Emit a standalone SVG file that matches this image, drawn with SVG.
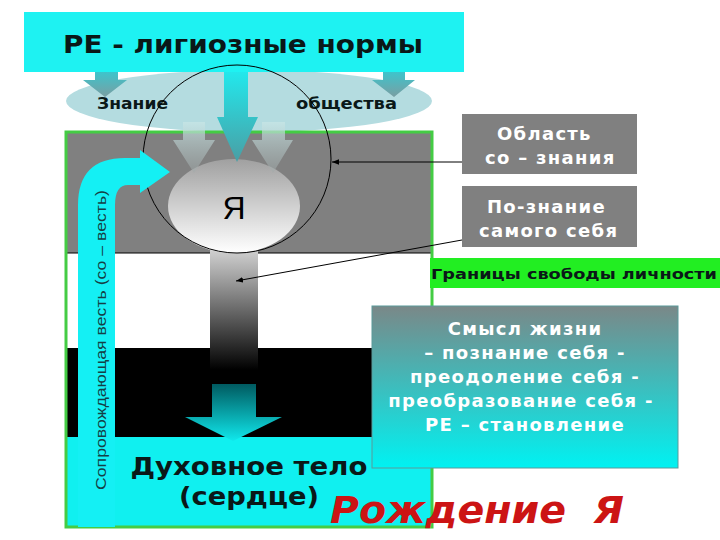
<svg xmlns="http://www.w3.org/2000/svg" width="720" height="540" viewBox="0 0 720 540">
<defs>
<linearGradient id="gTeal" x1="0" y1="0" x2="0" y2="1"><stop offset="0" stop-color="#3DC4CC"/><stop offset="1" stop-color="#7A9EA2"/></linearGradient>
<linearGradient id="gCenter" x1="0" y1="0" x2="0" y2="1"><stop offset="0" stop-color="#22E8EC"/><stop offset="1" stop-color="#4A9EA4"/></linearGradient>
<linearGradient id="gSmall" x1="0" y1="0" x2="0" y2="1"><stop offset="0" stop-color="#C8E6E6" stop-opacity="0.75"/><stop offset="1" stop-color="#A0A8A8" stop-opacity="0.5"/></linearGradient>
<linearGradient id="gBall" x1="0" y1="0" x2="0" y2="1"><stop offset="0" stop-color="#A0A0A0"/><stop offset="1" stop-color="#FFFFFF"/></linearGradient>
<linearGradient id="gShaft" x1="0" y1="0" x2="0" y2="1"><stop offset="0" stop-color="#D0D0D0"/><stop offset="0.2" stop-color="#A8A8A8"/><stop offset="1" stop-color="#000000"/></linearGradient>
<linearGradient id="gDown" x1="0" y1="0" x2="0" y2="1"><stop offset="0" stop-color="#005A60"/><stop offset="1" stop-color="#10E8EC"/></linearGradient>
<linearGradient id="gMean" x1="0" y1="0" x2="0" y2="1"><stop offset="0" stop-color="#7A8888"/><stop offset="1" stop-color="#00F2F2"/></linearGradient>
<marker id="ah" viewBox="0 0 10 10" refX="10" refY="5" markerWidth="7" markerHeight="7" orient="auto"><path d="M0,1 L10,5 L0,9 Z" fill="#000"/></marker>
</defs>
<style>
.b{font-family:"DejaVu Sans",Verdana,sans-serif;font-weight:bold}
.w{fill:#FFFFFF}
.k{fill:#0A1818}
.c{text-anchor:middle}
.s{font-size:18px;letter-spacing:1.3px}
</style>
<rect width="720" height="540" fill="#FFFFFF"/>

<g id="society">
<ellipse cx="249" cy="101" rx="183" ry="31" fill="#B4DCE0"/>
<text class="b k" x="97" y="109" font-size="16" textLength="71" lengthAdjust="spacingAndGlyphs">Знание</text>
<text class="b k" x="296" y="109" font-size="16" textLength="101" lengthAdjust="spacingAndGlyphs">общества</text>
</g>

<g id="frame">
<rect x="66" y="132" width="366" height="121" fill="#808080"/>
<rect x="66" y="253" width="366" height="95" fill="#FFFFFF"/>
<rect x="66" y="348" width="366" height="89" fill="#000000"/>
<rect x="66" y="437" width="366" height="90" fill="#10F0F0"/>
<line x1="66" y1="253" x2="432" y2="253" stroke="#000" stroke-width="1"/>
<rect x="66" y="132" width="366" height="395" fill="none" stroke="#44CC44" stroke-width="3"/>
</g>

<g id="norms-arrows">
<path d="M95,72 H118 V80 H127 L105,97 L83,80 H95 Z" fill="url(#gTeal)"/>
<path d="M383,72 H405 V80 H415 L394,97 L372,80 H383 Z" fill="url(#gTeal)"/>
</g>

<g id="shaft">
<rect x="210" y="250" width="48" height="120" fill="url(#gShaft)"/>
</g>

<g id="ya">
<ellipse cx="234" cy="206" rx="66" ry="47" fill="url(#gBall)"/>
<text x="234" y="219" font-family="Liberation Sans, Arial, sans-serif" font-size="32" fill="#000" class="c">Я</text>
</g>

<g id="small-arrows">
<path d="M183,122 H205 V140 H215 L194,173 L173,140 H183 Z" fill="url(#gSmall)"/>
<path d="M262,122 H285 V140 H293 L273,173 L252,140 H262 Z" fill="url(#gSmall)"/>
</g>

<g id="center-arrow">
<path d="M224,72 H248 V117 H258 L237,162 L217,117 H224 Z" fill="url(#gCenter)"/>
</g>

<g id="down-arrow">
<path d="M212,384 H256 V417 H282 L233,441 L185,417 H212 Z" fill="url(#gDown)"/>
</g>

<g id="title">
<rect x="24" y="12" width="440" height="60" fill="#1EF2F2"/>
<text class="b k" x="63" y="53" font-size="25" textLength="360" lengthAdjust="spacingAndGlyphs">РЕ - лигиозные нормы</text>
</g>

<g id="circle">
<circle cx="237" cy="159" r="94" fill="none" stroke="#000" stroke-width="1"/>
</g>

<g id="conscience">
<path d="M78,527 V205 Q78,158 125,158 H140 V150 L170,172 L140,193 V185 H128 Q115,185 115,205 V527 Z" fill="#14F0F4"/>
<text transform="translate(106,340) rotate(-90)" class="c" font-family="Liberation Sans, Arial, sans-serif" font-size="15" fill="#153F45" textLength="300" lengthAdjust="spacingAndGlyphs">Сопровождающая весть (со – весть)</text>
</g>

<g id="body-label">
<text class="b k c" x="249" y="475" font-size="24" textLength="237" lengthAdjust="spacingAndGlyphs">Духовное тело</text>
<text class="b k c" x="249" y="505" font-size="24" textLength="140" lengthAdjust="spacingAndGlyphs">(сердце)</text>
</g>

<g id="oblast">
<rect x="462" y="114" width="175" height="60" fill="#808080"/>
<text class="b w s" x="497" y="140">Область</text>
<text class="b w s" x="485" y="164">со – знания</text>
</g>

<g id="poznanie">
<rect x="462" y="186" width="175" height="61" fill="#808080"/>
<text class="b w s" x="487" y="213">По-знание</text>
<text class="b w s" x="479" y="237">самого себя</text>
</g>

<g id="granitsy">
<rect x="430" y="258" width="290" height="30" fill="#22EE22"/>
<text class="b k" x="431" y="279" font-size="14" textLength="286" lengthAdjust="spacingAndGlyphs">Границы свободы личности</text>
</g>

<g id="smysl">
<rect x="372" y="306" width="306" height="162" fill="url(#gMean)" stroke="#5A9A9A" stroke-width="1"/>
<g class="b w c s">
<text x="525" y="335">Смысл жизни</text>
<text x="525" y="359">– познание себя -</text>
<text x="525" y="383">преодоление себя -</text>
<text x="521" y="407">преобразование себя -</text>
<text x="525" y="431">РЕ – становление</text>
</g>
</g>

<g id="birth">
<text x="330" y="523" font-family="DejaVu Sans, Verdana, sans-serif" font-weight="bold" font-style="italic" font-size="38" fill="#CC1414" textLength="294" lengthAdjust="spacingAndGlyphs" xml:space="preserve">Рождение  Я</text>
</g>

<g id="connectors" stroke="#000" stroke-width="1" fill="none">
<line x1="462" y1="162" x2="332" y2="162" marker-end="url(#ah)"/>
<line x1="462" y1="240" x2="236" y2="281" marker-end="url(#ah)"/>
</g>
</svg>
